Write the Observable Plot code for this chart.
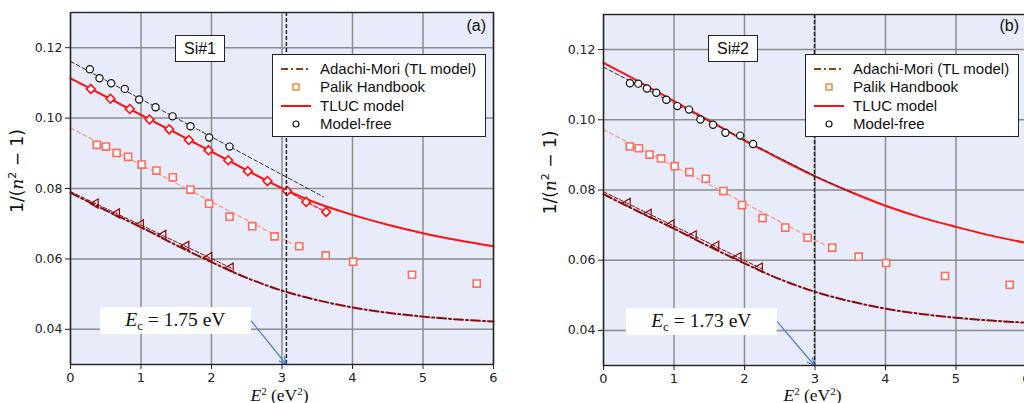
<!DOCTYPE html>
<html>
<head>
<meta charset="utf-8">
<script src="https://cdn.jsdelivr.net/npm/d3@7"></script>
<script src="https://cdn.jsdelivr.net/npm/@observablehq/plot@0.6"></script>
<style>
  html, body { margin: 0; padding: 0; background: #fff; }
  #wrap { position: relative; width: 1024px; height: 403px; overflow: hidden; background: #fff; }
  .panel { position: absolute; top: 0; width: 510px; height: 403px; }
  .panel svg { max-width: none !important; display: block; }
  .ov { position: absolute; box-sizing: border-box; }
  .legend { background: #fff; border: 1px solid #222; font-family: "Liberation Sans", Arial, sans-serif; font-size: 15px; color: #111; }
  .lrow { position: absolute; left: 0; height: 18px; width: 100%; }
  .lrow svg { position: absolute; left: 6px; top: 0; }
  .lrow span { position: absolute; left: 47px; top: 0; line-height: 18px; white-space: nowrap; }
  .sbox { background: #fff; border: 1px solid #222; font-family: "Liberation Sans", Arial, sans-serif; font-size: 16px; text-align: center; line-height: 25px; color: #111; }
  .tag { font-family: "Liberation Sans", Arial, sans-serif; font-size: 16px; color: #111; text-align: right; }
  .ecbox { background: #fff; font-family: "Liberation Serif", serif; font-size: 19.5px; color: #111; white-space: nowrap; text-align: center; }
  .ecbox .sub { font-size: 13px; position: relative; top: 4px; }
</style>
</head>
<body>
<div id="wrap"></div>
<script>
// ---------- data ----------
const xTicks = [0, 1, 2, 3, 4, 5, 6];
const yTicks = [0.04, 0.06, 0.08, 0.10, 0.12];
const panelTags = ["(a)", "(b)"];
const sampleNames = ["Si#1", "Si#2"];
const ecValues = [1.75, 1.73];
const legendLabels = ["Adachi-Mori (TL model)", "Palik Handbook", "TLUC model", "Model-free"];

// Palik Handbook (same in both panels)
const palikE2 = [0.372, 0.502, 0.654, 0.817, 1.010, 1.219, 1.451, 1.701, 1.965, 2.256, 2.578, 2.894, 3.244, 3.619, 4.009, 4.844, 5.762];
const palikY  = [0.0924, 0.0919, 0.0901, 0.0890, 0.0868, 0.0851, 0.0832, 0.0797, 0.0757, 0.0720, 0.0693, 0.0664, 0.0636, 0.0610, 0.0592, 0.0555, 0.0530];
const palikFitE2 = [0, 3.15];
const palikFitY  = [0.0972, 0.0642];

// Adachi-Mori (TL model) curve (same in both panels)
const curveE2 = [0, 0.5, 1, 1.5, 2, 2.5, 3, 3.5, 4, 4.5, 5, 5.5, 6];
const adachiY = [0.0788, 0.0738, 0.0690, 0.0639, 0.0591, 0.0546, 0.0510, 0.0483, 0.0462, 0.0447, 0.0436, 0.0428, 0.0422];

// Adachi-Mori points (triangles)
const triE2a = [0.355, 0.657, 0.997, 1.315, 1.641, 1.967, 2.270];
const triYa  = [0.0757, 0.0729, 0.0698, 0.0668, 0.0637, 0.0605, 0.0575];
const triFitE2a = [0, 2.3];
const triFitYa  = [0.0791, 0.0572];
const triE2b = [0.341, 0.639, 0.962, 1.278, 1.597, 1.913, 2.216];
const triYb  = [0.0763, 0.0732, 0.0702, 0.0671, 0.0641, 0.0609, 0.0579];
const triFitE2b = [0, 2.25];
const triFitYb  = [0.0795, 0.0575];

// TLUC model curves
const tlucYa = [0.1113, 0.1061, 0.1009, 0.0957, 0.0905, 0.0852, 0.0801, 0.0758, 0.0725, 0.0697, 0.0673, 0.0653, 0.0636];
const tlucYb = [0.1162, 0.1109, 0.1053, 0.0998, 0.0941, 0.0889, 0.0839, 0.0795, 0.0755, 0.0722, 0.0695, 0.0670, 0.0649];

// TLUC points (diamonds, panel a)
const diaE2a = [0.288, 0.567, 0.841, 1.121, 1.400, 1.678, 1.957, 2.237, 2.515, 2.794, 3.074, 3.343, 3.627];
const diaYa  = [0.1083, 0.1055, 0.1026, 0.0996, 0.0968, 0.0938, 0.0909, 0.0880, 0.0849, 0.0821, 0.0793, 0.0762, 0.0733];

// Model-free points (circles) and their dashed fits
const mfE2a = [0.274, 0.411, 0.577, 0.770, 0.974, 1.206, 1.447, 1.702, 1.967, 2.255];
const mfYa  = [0.1139, 0.1113, 0.1099, 0.1083, 0.1053, 0.1031, 0.1005, 0.0977, 0.0945, 0.0919];
const mfFitE2a = [0, 3.59];
const mfFitYa  = [0.1161, 0.0776];
const mfE2b = [0.375, 0.493, 0.616, 0.749, 0.891, 1.047, 1.213, 1.374, 1.554, 1.729, 1.938, 2.122];
const mfYb  = [0.1104, 0.1103, 0.1089, 0.1077, 0.1057, 0.1039, 0.1029, 0.1001, 0.0986, 0.0963, 0.0955, 0.0931];
const mfFitE2b = [0, 0.5, 1, 1.5, 2, 2.5, 3, 3.55];
const mfFitYb  = [0.1150, 0.1098, 0.1047, 0.0995, 0.0943, 0.0891, 0.0840, 0.0790];

// E_c annotation: box extent (E², value) and arrow start
const ecBoxE2a = [0.426, 2.563];
const ecBoxE2b = [0.322, 2.467];
const ecBoxY = [0.0461, 0.0385];
const ecArrowStartY = 0.0424;
const yBottom = 0.03;

// ---------- helpers ----------
const pts = (xs, ys) => xs.map((x, i) => ({x, y: ys[i]}));
const C = {
  bg: "#e8ebf9", grid: "#8c8c8c", adachi: "#8b0a0a", palik: "#ff6d5c", palikFit: "#f6a08e",
  tluc: "#ff1010", mf: "#111", arrow: "#4a7bd0", legAdachi: "#8b4513", legPalik: "#ee8a3c"
};

function panel(i, cfg) {
  const ec2 = ecValues[i] * ecValues[i];
  const chart = Plot.plot({
    width: 510, height: 403,
    marginLeft: 70, marginRight: 17, marginTop: cfg.mt, marginBottom: cfg.mb,
    x: {domain: [0, 6]},
    y: {domain: [0.03, 0.13]},
    style: {fontFamily: "DejaVu Sans, sans-serif", fontSize: "12.5px", color: "#222", background: "transparent", overflow: "visible", maxWidth: "none"},
    marks: [
      Plot.frame({fill: C.bg}),
      Plot.gridX(xTicks, {stroke: C.grid, strokeOpacity: 1, strokeWidth: 1.5}),
      Plot.gridY(yTicks, {stroke: C.grid, strokeOpacity: 1, strokeWidth: 1.5}),
      // Adachi-Mori
      Plot.line(pts(curveE2, adachiY), {x: "x", y: "y", stroke: C.adachi, strokeWidth: 2, strokeDasharray: "9,3,2,3", curve: "monotone-x"}),
      Plot.line(pts(cfg.triFitE2, cfg.triFitY), {x: "x", y: "y", stroke: C.adachi, strokeWidth: 1, strokeDasharray: "4,2"}),
      Plot.dot(pts(cfg.triE2, cfg.triY), {x: "x", y: "y", symbol: "triangle", rotate: -90, r: 3.4, stroke: C.adachi, fill: "none", strokeWidth: 1.2}),
      // Palik
      Plot.line(pts(palikFitE2, palikFitY), {x: "x", y: "y", stroke: C.palikFit, strokeWidth: 1.3, strokeDasharray: "4,3"}),
      Plot.dot(pts(palikE2, palikY), {x: "x", y: "y", symbol: "square", r: 4, stroke: C.palik, fill: "white", strokeWidth: 1.6}),
      // TLUC
      Plot.line(pts(curveE2, cfg.tlucY), {x: "x", y: "y", stroke: C.tluc, strokeWidth: 2, curve: "monotone-x"}),
      ...(cfg.diaE2 ? [
        Plot.line(pts(cfg.diaE2, cfg.diaY), {x: "x", y: "y", stroke: C.tluc, strokeWidth: 1.2, strokeDasharray: "4,2"}),
        Plot.dot(pts(cfg.diaE2, cfg.diaY), {x: "x", y: "y", symbol: "square", rotate: 45, r: 3.5, stroke: C.tluc, fill: "white", strokeWidth: 1.6})
      ] : []),
      // Model-free
      Plot.line(pts(cfg.mfFitE2, cfg.mfFitY), {x: "x", y: "y", stroke: "#333", strokeWidth: 1, strokeDasharray: "4,2.5"}),
      Plot.dot(pts(cfg.mfE2, cfg.mfY), {x: "x", y: "y", r: 3.6, stroke: C.mf, fill: "white", strokeWidth: 1.2}),
      // E_c marker
      Plot.ruleX([ec2], {stroke: "#222", strokeWidth: 1.5, strokeDasharray: "4,2"}),
      Plot.arrow([{x1: cfg.ecBox[1], y1: ecArrowStartY, x2: ec2, y2: yBottom}], {x1: "x1", y1: "y1", x2: "x2", y2: "y2", stroke: C.arrow, strokeWidth: 1.2, headLength: 10, headAngle: 50}),
      Plot.axisX(xTicks, {tickSize: 5, tickPadding: 3, label: null, fontSize: 13}),
      Plot.axisY(yTicks, {tickSize: 5, tickPadding: 3, label: null, tickFormat: d3.format(".2f"), fontSize: 12.5}),
      Plot.frame({stroke: "#222", strokeWidth: 1.4})
    ]
  });
  const holder = document.createElement("div");
  holder.className = "panel";
  holder.style.left = cfg.left + "px";
  holder.appendChild(chart);
  document.getElementById("wrap").appendChild(holder);

  const sx = chart.scale("x"), sy = chart.scale("y");
  const svg = d3.select(chart);
  const plotLeft = sx.apply(0), plotRight = sx.apply(6);
  const cy = (sy.apply(0.03) + sy.apply(0.13)) / 2;

  // y label
  const yl = svg.append("text")
    .attr("transform", `translate(${plotLeft - 47.5},${cy - 17}) rotate(-90)`)
    .attr("text-anchor", "middle").attr("font-family", "DejaVu Sans, sans-serif").attr("font-size", 17).attr("fill", "#111");
  yl.append("tspan").text("1/(");
  yl.append("tspan").attr("font-family", "DejaVu Serif, serif").attr("font-style", "italic").text("n");
  yl.append("tspan").attr("dy", -7).attr("font-size", 11).text("2");
  yl.append("tspan").attr("dy", 7).text(" \u2212 1)");

  // x label
  const xl = svg.append("text")
    .attr("x", (plotLeft + plotRight) / 2 - 2).attr("y", 400.5)
    .attr("text-anchor", "middle").attr("font-family", "Liberation Serif, serif").attr("font-size", 17.5).attr("fill", "#111");
  xl.append("tspan").attr("font-style", "italic").text("E");
  xl.append("tspan").attr("dy", -6).attr("font-size", 11).text("2");
  xl.append("tspan").attr("dy", 6).text(" (eV");
  xl.append("tspan").attr("dy", -6).attr("font-size", 11).text("2");
  xl.append("tspan").attr("dy", 6).text(")");

  const wrap = document.getElementById("wrap");
  const L = cfg.left;

  // E_c box
  const ec = document.createElement("div");
  ec.className = "ov ecbox";
  const bx0 = L + sx.apply(cfg.ecBox[0]), bx1 = L + sx.apply(cfg.ecBox[1]);
  const by0 = sy.apply(ecBoxY[0]), by1 = sy.apply(ecBoxY[1]);
  Object.assign(ec.style, {left: bx0 + "px", top: by0 + "px", width: (bx1 - bx0) + "px", height: (by1 - by0) + "px", lineHeight: (by1 - by0) + "px"});
  ec.innerHTML = `<i>E</i><span class="sub">c</span> = ${ecValues[i].toFixed(2)} eV`;
  wrap.appendChild(ec);

  // sample box
  const sb = document.createElement("div");
  sb.className = "ov sbox";
  Object.assign(sb.style, {left: (L + cfg.sLeft) + "px", top: "35px", width: "50px", height: "27px"});
  sb.textContent = sampleNames[i];
  wrap.appendChild(sb);

  // panel tag
  const tg = document.createElement("div");
  tg.className = "ov tag";
  Object.assign(tg.style, {left: (L + plotRight - 60) + "px", top: "17px", width: "53px", height: "20px"});
  tg.textContent = panelTags[i];
  wrap.appendChild(tg);

  // legend
  const lg = document.createElement("div");
  lg.className = "ov legend";
  Object.assign(lg.style, {left: (L + cfg.legLeft) + "px", top: "54px", width: "214px", height: "83px"});
  const syms = [
    `<svg width="34" height="18"><line x1="2" y1="9" x2="32" y2="9" stroke="${C.legAdachi}" stroke-width="2" stroke-dasharray="7,3,2,3"/></svg>`,
    `<svg width="34" height="18"><rect x="14" y="6" width="6" height="6" fill="white" stroke="${C.legPalik}" stroke-width="1.5"/></svg>`,
    `<svg width="34" height="18"><line x1="2" y1="9" x2="32" y2="9" stroke="${C.tluc}" stroke-width="2"/></svg>`,
    `<svg width="34" height="18"><circle cx="17" cy="9" r="3" fill="white" stroke="#111" stroke-width="1.2"/></svg>`
  ];
  legendLabels.forEach((t, k) => {
    const row = document.createElement("div");
    row.className = "lrow";
    row.style.top = (4.5 + k * 18.5) + "px";
    row.innerHTML = syms[k] + `<span>${t}</span>`;
    lg.appendChild(row);
  });
  wrap.appendChild(lg);
}

panel(0, {left: 0, mt: 12, mb: 39, triE2: triE2a, triY: triYa, triFitE2: triFitE2a, triFitY: triFitYa,
  tlucY: tlucYa, diaE2: diaE2a, diaY: diaYa, mfE2: mfE2a, mfY: mfYa, mfFitE2: mfFitE2a, mfFitY: mfFitYa,
  ecBox: ecBoxE2a, sLeft: 175, legLeft: 272});
panel(1, {left: 533, mt: 14, mb: 38, triE2: triE2b, triY: triYb, triFitE2: triFitE2b, triFitY: triFitYb,
  tlucY: tlucYb, diaE2: null, diaY: null, mfE2: mfE2b, mfY: mfYb, mfFitE2: mfFitE2b, mfFitY: mfFitYb,
  ecBox: ecBoxE2b, sLeft: 175, legLeft: 272});
</script>
</body>
</html>
